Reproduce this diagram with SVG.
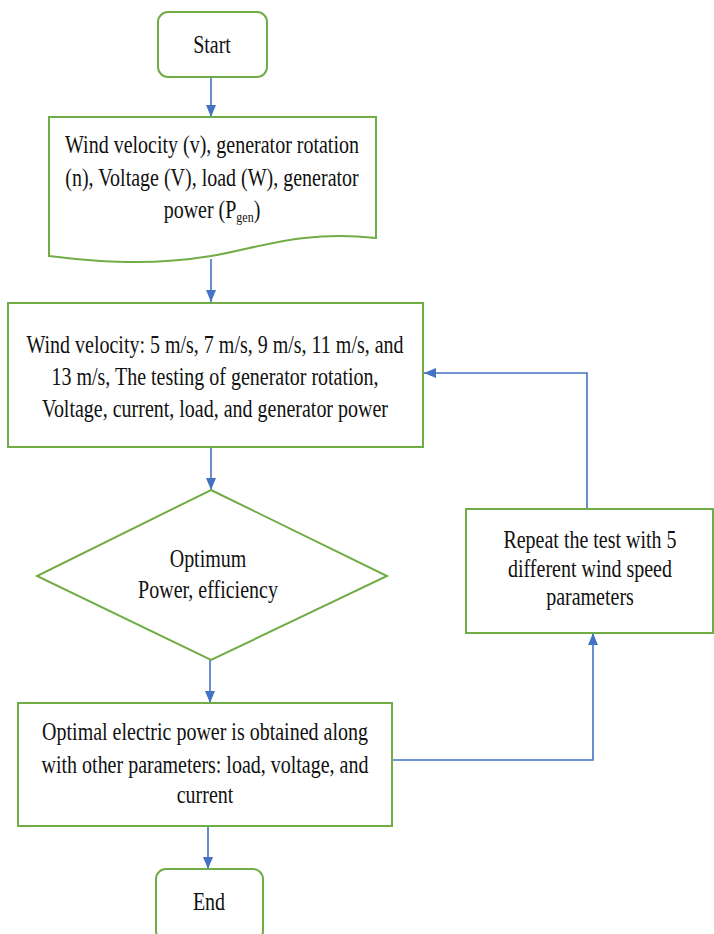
<svg xmlns="http://www.w3.org/2000/svg" width="714" height="934" viewBox="0 0 714 934">
<style>
.node{fill:#ffffff;stroke:#70AD47;stroke-width:2}
.conn{fill:none;stroke:#4472C4;stroke-width:1.6}
.t{font-family:"Liberation Serif","Times New Roman",serif;font-size:20px;fill:#111111;text-anchor:middle}
.sub{font-size:12px}
</style>
<defs>
<marker id="arr" viewBox="0 0 12 10" refX="12" refY="5" markerWidth="12" markerHeight="10" orient="auto" markerUnits="userSpaceOnUse">
<path d="M0,0 L12,5 L0,10 z" fill="#4472C4"/>
</marker>
</defs>
<rect width="714" height="934" fill="#ffffff"/>
<g id="connectors">
<line class="conn" x1="211" y1="77" x2="211" y2="117" marker-end="url(#arr)"/>
<line class="conn" x1="211" y1="259" x2="211" y2="302" marker-end="url(#arr)"/>
<line class="conn" x1="211" y1="447" x2="211" y2="490" marker-end="url(#arr)"/>
<line class="conn" x1="210" y1="660" x2="210" y2="703" marker-end="url(#arr)"/>
<line class="conn" x1="208" y1="826" x2="208" y2="869" marker-end="url(#arr)"/>
<polyline class="conn" points="392,760 593,760 593,633" marker-end="url(#arr)"/>
<polyline class="conn" points="587,509 587,373 424,373" marker-end="url(#arr)"/>
</g>
<g id="start">
<rect class="node" x="158" y="12" width="109" height="65" rx="10"/>
<text class="t" transform="translate(212,53) scale(1,1.25)">Start</text>
</g>
<g id="input">
<path class="node" d="M49,117 H376 V238 C300,230 260,248 211,256 C150,266 100,262 49,256 Z"/>
<text class="t" transform="translate(212,153) scale(1,1.25)">Wind velocity (v), generator rotation</text>
<text class="t" transform="translate(212,186) scale(1,1.25)">(n), Voltage (V), load (W), generator</text>
<text class="t" transform="translate(212,218) scale(1,1.25)">power (P<tspan class="sub" dy="3">gen</tspan><tspan dy="-3">)</tspan></text>
</g>
<g id="test">
<rect class="node" x="8" y="303" width="415" height="144"/>
<text class="t" transform="translate(215,353) scale(1,1.25)">Wind velocity: 5 m/s, 7 m/s, 9 m/s, 11 m/s, and</text>
<text class="t" transform="translate(215,385) scale(1,1.25)">13 m/s, The testing of generator rotation,</text>
<text class="t" transform="translate(215,417) scale(1,1.25)">Voltage, current, load, and generator power</text>
</g>
<g id="decision">
<polygon class="node" points="211,490 387,576 211,660 37,576"/>
<text class="t" transform="translate(208,567) scale(1,1.25)">Optimum</text>
<text class="t" transform="translate(208,598) scale(1,1.25)">Power, efficiency</text>
</g>
<g id="repeat">
<rect class="node" x="466" y="509" width="247" height="124"/>
<text class="t" transform="translate(590,548) scale(1,1.25)">Repeat the test with 5</text>
<text class="t" transform="translate(590,577) scale(1,1.25)">different wind speed</text>
<text class="t" transform="translate(590,605) scale(1,1.25)">parameters</text>
</g>
<g id="result">
<rect class="node" x="18" y="703" width="374" height="123"/>
<text class="t" transform="translate(205,740) scale(1,1.25)">Optimal electric power is obtained along</text>
<text class="t" transform="translate(205,773) scale(1,1.25)">with other parameters: load, voltage, and</text>
<text class="t" transform="translate(205,803) scale(1,1.25)">current</text>
</g>
<g id="end">
<rect class="node" x="156" y="869" width="107" height="72" rx="10"/>
<text class="t" transform="translate(209,910) scale(1,1.25)">End</text>
</g>
</svg>
